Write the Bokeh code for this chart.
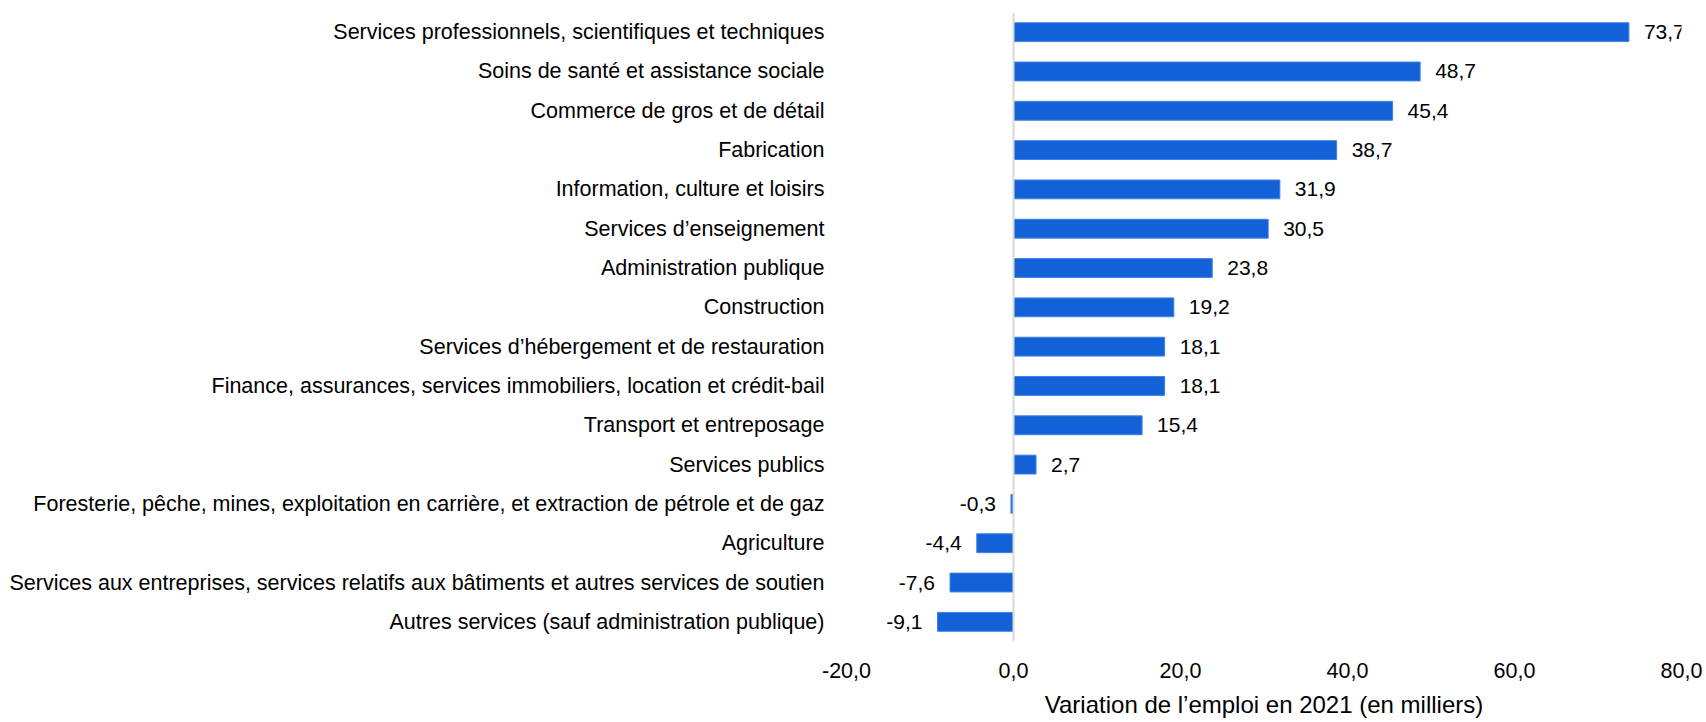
from bokeh.plotting import figure
from bokeh.models import ColumnDataSource, FactorRange, Range1d, FixedTicker, CustomJSTickFormatter, Span, LabelSet
from bokeh.core.properties import value
from bokeh.embed import file_html
from bokeh.resources import INLINE

categories = [
    "Services professionnels, scientifiques et techniques",
    "Soins de santé et assistance sociale",
    "Commerce de gros et de détail",
    "Fabrication",
    "Information, culture et loisirs",
    "Services d\u2019enseignement",
    "Administration publique",
    "Construction",
    "Services d\u2019hébergement et de restauration",
    "Finance, assurances, services immobiliers, location et crédit-bail",
    "Transport et entreposage",
    "Services publics",
    "Foresterie, pêche, mines, exploitation en carrière, et extraction de pétrole et de gaz",
    "Agriculture",
    "Services aux entreprises, services relatifs aux bâtiments et autres services de soutien",
    "Autres services (sauf administration publique)",
]
values = [73.7, 48.7, 45.4, 38.7, 31.9, 30.5, 23.8, 19.2, 18.1, 18.1, 15.4, 2.7, -0.3, -4.4, -7.6, -9.1]
x_ticks = [-20, 0, 20, 40, 60, 80]
x_title = "Variation de l\u2019emploi en 2021 (en milliers)"

FONT = "Liberation Sans"
BAR = "#1261d6"

labels = [f"{v:.1f}".replace(".", ",") for v in values]
src_pos = ColumnDataSource(dict(
    cat=[c for c, v in zip(categories, values) if v >= 0],
    val=[v for v in values if v >= 0],
    lab=[l for l, v in zip(labels, values) if v >= 0],
))
src_neg = ColumnDataSource(dict(
    cat=[c for c, v in zip(categories, values) if v < 0],
    val=[v for v in values if v < 0],
    lab=[l for l, v in zip(labels, values) if v < 0],
))

p = figure(
    width=1706, height=722,
    y_range=FactorRange(factors=list(reversed(categories))),
    x_range=Range1d(x_ticks[0], x_ticks[-1]),
    output_backend="svg", toolbar_location=None,
    min_border_left=846, min_border_right=25, min_border_top=12, min_border_bottom=81,
)
p.outline_line_color = None
p.xgrid.grid_line_color = None
p.ygrid.grid_line_color = None

p.hbar(y="cat", right="val", left=0, height=0.48, source=src_pos,
       fill_color=BAR, line_color="#3f82e6", line_width=1)
p.hbar(y="cat", right="val", left=0, height=0.48, source=src_neg,
       fill_color=BAR, line_color="#3f82e6", line_width=1)

p.add_layout(Span(location=0, dimension="height", line_color="#d9d9d9", line_width=2))

p.add_layout(LabelSet(x="val", y="cat", text="lab", source=src_pos, x_offset=15,
                      text_align="left", text_baseline="middle",
                      text_font=value(FONT), text_font_size="21px", text_color="#000000"))
p.add_layout(LabelSet(x="val", y="cat", text="lab", source=src_neg, x_offset=-15,
                      text_align="right", text_baseline="middle",
                      text_font=value(FONT), text_font_size="21px", text_color="#000000"))

p.xaxis.ticker = FixedTicker(ticks=x_ticks)
p.xaxis.formatter = CustomJSTickFormatter(code="return tick.toFixed(1).replace('.', ',');")
p.xaxis.axis_line_color = None
p.xaxis.major_tick_line_color = None
p.xaxis.minor_tick_line_color = None
p.xaxis.major_tick_out = 0
p.xaxis.major_label_standoff = 21
p.xaxis.major_label_text_font = FONT
p.xaxis.major_label_text_font_size = "21.5px"
p.xaxis.major_label_text_color = "#000000"
p.xaxis.axis_label = x_title
p.xaxis.axis_label_text_font = FONT
p.xaxis.axis_label_text_font_size = "24px"
p.xaxis.axis_label_text_font_style = "normal"
p.xaxis.axis_label_text_color = "#000000"
p.xaxis.axis_label_standoff = 10

p.yaxis.axis_line_color = None
p.yaxis.major_tick_line_color = None
p.yaxis.major_tick_out = 0
p.yaxis.major_label_standoff = 22
p.yaxis.major_label_text_font = FONT
p.yaxis.major_label_text_font_size = "21.5px"
p.yaxis.major_label_text_color = "#000000"

open("out.html", "w").write(file_html(p, INLINE))
